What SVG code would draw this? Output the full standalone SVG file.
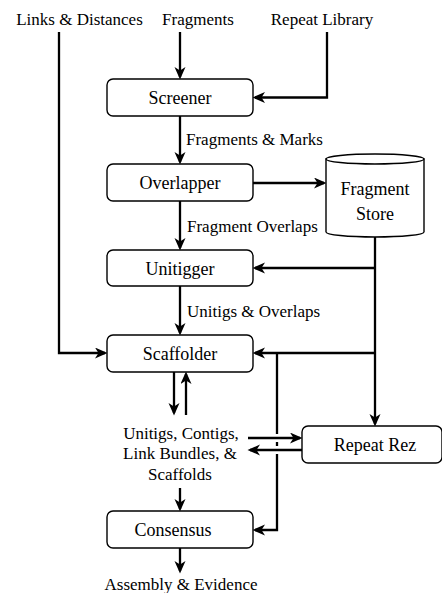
<svg xmlns="http://www.w3.org/2000/svg" width="442" height="593" viewBox="0 0 442 593" font-family="Liberation Serif, Times New Roman, serif">
<style>
text{font-family:"Liberation Serif","Times New Roman",serif;fill:#000}
.n{font-size:18px;text-anchor:middle}
.l{font-size:17px}
.c{text-anchor:middle}
.box{fill:#fff;stroke:#000;stroke-width:1.4}
.e{fill:none;stroke:#000;stroke-width:2.3;marker-end:url(#a)}
.p{fill:none;stroke:#000;stroke-width:2.3}
</style>
<defs>
<marker id="a" markerUnits="userSpaceOnUse" markerWidth="14" markerHeight="12" viewBox="0 0 14 12" refX="10" refY="5.5" orient="auto">
<path d="M0,0 L12.5,5.5 L0,11 L3.5,5.5 Z" fill="#000"/>
</marker>
</defs>
<rect width="442" height="593" fill="#fff"/>
<g id="connectors">
<path class="e" d="M180,32 L180,77"/>
<path class="e" d="M327,32 L327,97.5 L255,97.5"/>
<path class="e" d="M59,32 L59,353 L105,353"/>
<path class="e" d="M180,116 L180,162"/>
<path class="e" d="M180,201 L180,248"/>
<path class="e" d="M180,286 L180,333"/>
<path class="e" d="M253,183 L324,183"/>
<path class="e" d="M375,237 L375,424"/>
<path class="e" d="M375,268 L255,268"/>
<path class="e" d="M375,353 L255,353"/>
<path class="p" d="M277,353 L277,434 M277,442 L277,446 M277,454 L277,460"/>
<path class="e" d="M277,460 L277,530 L255,530"/>
<path class="e" d="M174,372 L174,413"/>
<path class="e" d="M186,415 L186,374"/>
<path class="e" d="M248,438 L300,438"/>
<path class="e" d="M302,450 L250,450"/>
<path class="e" d="M180,488 L180,509"/>
<path class="e" d="M180,548 L180,571"/>
</g>
<g id="screener"><rect class="box" x="107" y="79" width="146" height="37" rx="6"/><text class="n" x="180" y="104">Screener</text></g>
<g id="overlapper"><rect class="box" x="107" y="164" width="146" height="37" rx="6"/><text class="n" x="180" y="189">Overlapper</text></g>
<g id="unitigger"><rect class="box" x="107" y="250" width="146" height="36" rx="6"/><text class="n" x="180" y="274.5">Unitigger</text></g>
<g id="scaffolder"><rect class="box" x="107" y="335" width="146" height="37" rx="6"/><text class="n" x="180" y="360">Scaffolder</text></g>
<g id="consensus"><rect class="box" x="107" y="511" width="146" height="37" rx="6"/><text class="n" x="173" y="536">Consensus</text></g>
<g id="repeatrez"><rect class="box" x="302" y="426" width="140" height="37" rx="6"/><text class="n" x="375" y="451">Repeat Rez</text></g>
<g id="fragmentstore">
<path class="box" d="M326,159 L326,232 A49,5 0 0 0 424,232 L424,159 Z"/>
<ellipse class="box" cx="375" cy="159" rx="49" ry="5"/>
<text class="n" x="375" y="195">Fragment</text>
<text class="n" x="375" y="220">Store</text>
</g>
<g id="labels">
<text class="l c" x="79.5" y="24.5">Links &amp; Distances</text>
<text class="l c" x="198" y="24.5">Fragments</text>
<text class="l c" x="322" y="24.5">Repeat Library</text>
<text class="l" x="186" y="145">Fragments &amp; Marks</text>
<text class="l" x="187" y="232">Fragment Overlaps</text>
<text class="l" x="187" y="317">Unitigs &amp; Overlaps</text>
<text class="l c" x="181" y="438.5">Unitigs, Contigs,</text>
<text class="l c" x="180" y="459">Link Bundles, &amp;</text>
<text class="l c" x="180" y="480">Scaffolds</text>
<text class="l c" x="181" y="590">Assembly &amp; Evidence</text>
</g>
</svg>
